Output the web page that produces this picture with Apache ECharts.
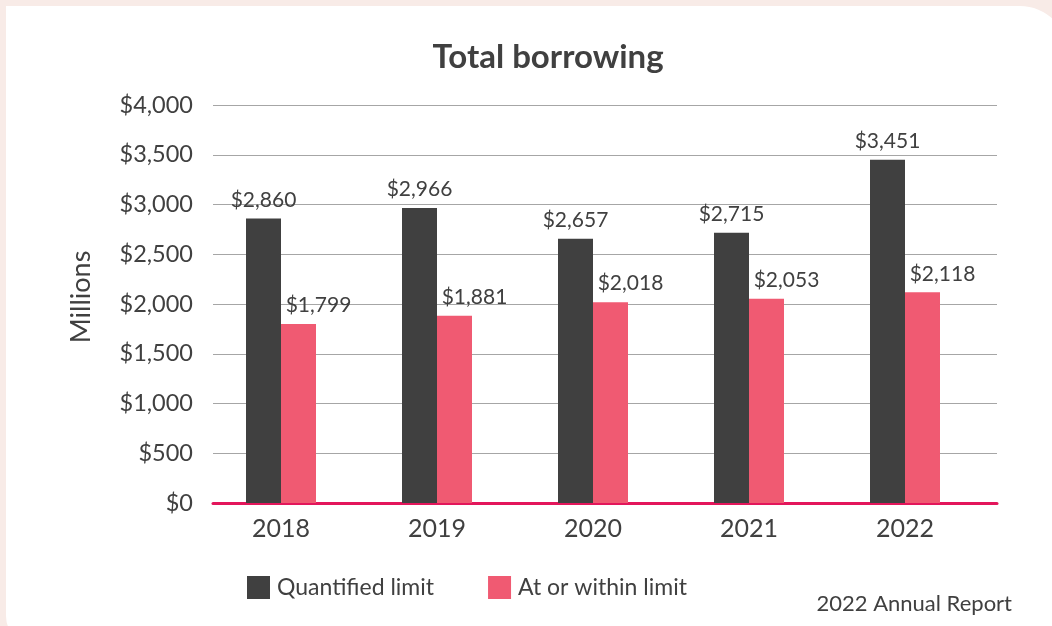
<!DOCTYPE html>
<html>
<head>
<meta charset="utf-8">
<script src="https://cdn.jsdelivr.net/npm/echarts@6/dist/echarts.min.js"></script>
<style>
html,body{margin:0;padding:0;width:1052px;height:626px;overflow:hidden;background:#f8ebe7;}
#panel{position:absolute;left:6px;top:6px;width:1062px;height:640px;background:#fff;border-radius:0 48px 0 30px;}
#chart{position:absolute;left:0;top:0;width:1052px;height:626px;}
</style>
</head>
<body>
<div id="panel"></div>
<div id="chart"></div>
<script>
const categories = ['2018', '2019', '2020', '2021', '2022'];
const quantifiedLimit = [2860, 2966, 2657, 2715, 3451];
const withinLimit = [1799, 1881, 2018, 2053, 2118];
const yTicks = [0, 500, 1000, 1500, 2000, 2500, 3000, 3500, 4000];
const seriesNames = ['Quantified limit', 'At or within limit'];

const FONT = 'Lato, "Source Sans Pro", sans-serif';
const TXT = '#404040';
const fmt = v => '$' + Number(v).toLocaleString('en-US');

const chart = echarts.init(document.getElementById('chart'), null, {renderer: 'canvas'});
const yMax = yTicks[yTicks.length - 1];
chart.setOption({
  backgroundColor: 'transparent',
  animation: false,
  textStyle: {fontFamily: FONT},
  title: {
    text: 'Total borrowing',
    left: 543, top: 36, textAlign: 'center',
    textStyle: {fontFamily: FONT, fontSize: 33, fontWeight: 'bold', color: TXT}
  },
  legend: {
    data: seriesNames,
    left: 242, top: 571,
    itemWidth: 23, itemHeight: 23, itemGap: 54,
    icon: 'rect',
    textStyle: {fontFamily: FONT, fontSize: 23, color: TXT, padding: [0, 0, 0, 2]}
  },
  graphic: [
    {type: 'text', right: 40, top: 593,
     style: {text: '2022 Annual Report', font: '22px ' + FONT, fill: TXT}},
    {type: 'text', x: 81, y: 297, rotation: Math.PI / 2,
     style: {text: 'Millions', font: '27px ' + FONT, fill: TXT, align: 'center', verticalAlign: 'middle'}}
  ],
  grid: [
    {left: 213, right: 55, top: 105, bottom: 123, containLabel: false},
    {left: 203, right: 69, top: 105, bottom: 123, containLabel: false}
  ],
  xAxis: [
    {type: 'category', gridIndex: 0, data: categories,
     axisLine: {show: true, lineStyle: {color: '#e3165b', width: 3}},
     axisTick: {show: false}, axisLabel: {show: false}, splitLine: {show: false}},
    {type: 'category', gridIndex: 1, data: categories,
     axisLine: {show: false}, axisTick: {show: false},
     axisLabel: {fontFamily: FONT, fontSize: 25, color: TXT, margin: 13}}
  ],
  yAxis: [
    {type: 'value', gridIndex: 0, min: 0, max: yMax, interval: 500,
     axisLine: {show: false}, axisTick: {show: false},
     axisLabel: {fontFamily: FONT, fontSize: 23.5, color: TXT, margin: 20, formatter: fmt},
     splitLine: {show: true, lineStyle: {color: '#a6a6a6', width: 1.2}}},
    {type: 'value', gridIndex: 1, min: 0, max: yMax, interval: 500, show: false,
     splitLine: {show: false}}
  ],
  series: [
    {name: seriesNames[0], type: 'bar', xAxisIndex: 1, yAxisIndex: 1,
     data: quantifiedLimit, barWidth: 35, barGap: '0%',
     itemStyle: {color: '#404040'},
     label: {show: true, position: 'top', distance: 8, formatter: p => fmt(p.value),
       fontFamily: FONT, fontSize: 21, color: TXT}},
    {name: seriesNames[1], type: 'bar', xAxisIndex: 1, yAxisIndex: 1,
     data: withinLimit, barWidth: 35, barGap: '0%',
     itemStyle: {color: '#f05a72'},
     label: {show: true, position: 'top', distance: 8, offset: [20, 0], formatter: p => fmt(p.value),
       fontFamily: FONT, fontSize: 21, color: TXT}},
    {type: 'bar', xAxisIndex: 0, yAxisIndex: 0, data: [], silent: true}
  ]
});
</script>
</body>
</html>
